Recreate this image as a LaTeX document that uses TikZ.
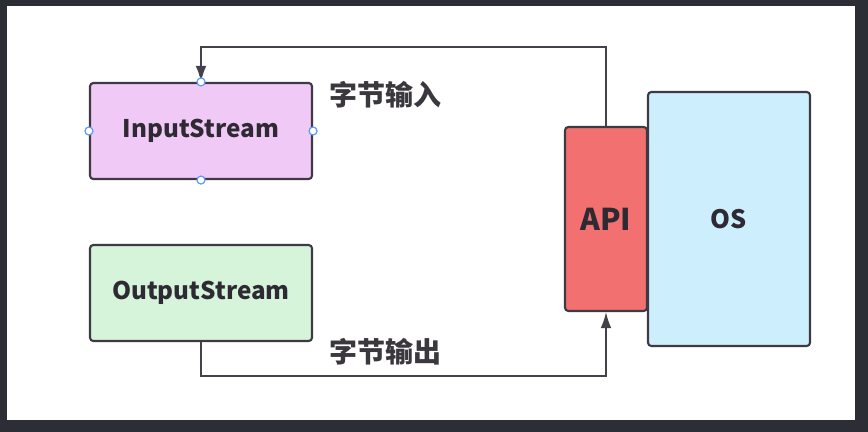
\documentclass[tikz,border=0pt]{standalone}
\usepackage{fontspec}
\setmainfont{Noto Sans CJK SC}
\usetikzlibrary{arrows.meta}
\definecolor{bgdark}{HTML}{2C2E35}
\definecolor{edge}{HTML}{3E3A44}
\definecolor{infill}{HTML}{F0C9F6}
\definecolor{outfill}{HTML}{D5F4D9}
\definecolor{apifill}{HTML}{F37071}
\definecolor{osfill}{HTML}{CDEEFD}
\definecolor{txt}{HTML}{2E2A33}
\definecolor{handle}{HTML}{5B9BF0}
\tikzset{
  box/.style={draw=edge, line width=1.6pt, rounded corners=2.5pt, inner sep=0pt, text=txt, font=\bfseries},
  conn/.style={draw=edge!90!gray, line width=1.2pt},
  tip/.style={-{Latex[length=12pt,width=8pt]}},
  lbl/.style={text=txt!85!gray, font=\fontsize{21}{23}\selectfont\bfseries, inner sep=0pt},
  hdl/.style={circle, draw=handle, fill=white, line width=0.9pt, minimum size=6pt, inner sep=0pt}
}
\begin{document}
\begin{tikzpicture}[x=0.75pt, y=-0.75pt]
\fill[bgdark] (0,0) rectangle (868,432);
\fill[white] (7,6) rectangle (855,420);
\useasboundingbox (0,0) rectangle (868,432);
\node[box, fill=infill, minimum width=166.5pt, minimum height=72pt, font=\fontsize{18.2}{20}\selectfont\bfseries] (in) at (201,131) {InputStream};
\node[box, fill=outfill, minimum width=166.5pt, minimum height=72pt, font=\fontsize{18.2}{20}\selectfont\bfseries] (out) at (201,293) {OutputStream};
\node[box, fill=osfill, minimum width=121.5pt, minimum height=190.5pt, font=\fontsize{19}{22}\selectfont\bfseries] (os) at (729,219) {OS};
\node[box, fill=apifill, minimum width=61.5pt, minimum height=138pt, font=\fontsize{22.5}{26}\selectfont\bfseries] (api) at (606,219) {API};
\coordinate (t) at (400,47);
\coordinate (b) at (400,376);
\draw[conn, tip] (api.north) -- (api.north |- t) -| (in.north);
\draw[conn, tip] (out.south) |- (b) -| (api.south);
\node[lbl] (lin) at (385,95) {字节输入};
\node[lbl] (lout) at (385,352) {字节输出};
\node[hdl] (h1) at (in.north) {};
\node[hdl] (h2) at (in.south) {};
\node[hdl] (h3) at (in.west) {};
\node[hdl] (h4) at (in.east) {};
\end{tikzpicture}
\end{document}
